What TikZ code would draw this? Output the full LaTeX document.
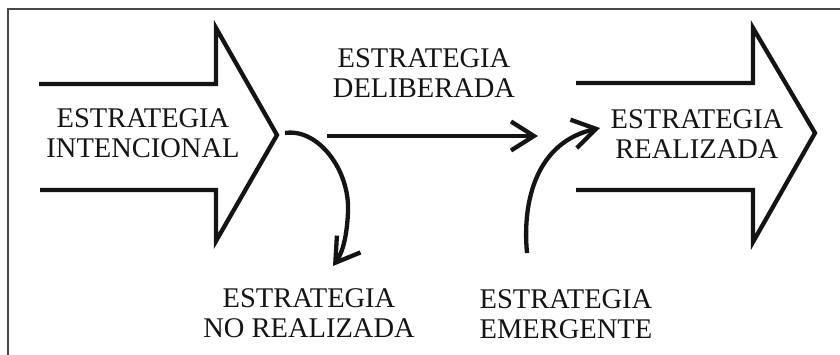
\documentclass[tikz,border=0pt]{standalone}
\usepackage{fontspec}
\setmainfont{Liberation Serif}
\usetikzlibrary{arrows.meta}
\begin{document}
\begin{tikzpicture}[x=1pt,y=-1pt,
  blockarrow/.style={line width=4.3pt, draw=black!92, line join=miter, miter limit=10},
  flowarrow/.style={line width=4.3pt, draw=black!92, -{Straight Barb[length=23pt, width=29pt]}},
  lbl/.style={font=\fontsize{28.5}{30}\selectfont, align=center, inner sep=0pt, text=black!92, anchor=center},
  frameline/.style={line width=2pt, draw=black!72}]
\useasboundingbox (0,0) rectangle (840,355);
% frame
\draw[frameline] (7.7,355) -- (7.7,9.5) -- (840,9.5);
% block arrows
\draw[blockarrow] (39,84) -- (216,84) -- (216,28) -- (277,135) -- (216,241) -- (216,190) -- (40,190);
\draw[blockarrow] (576,83) -- (753,83) -- (753,28) -- (815,133) -- (753,242) -- (753,190) -- (576,190);
% labels
\node[lbl] (intencional) at (143,133.6) {ESTRATEGIA\\INTENCIONAL};
\node[lbl] (deliberada) at (424,73) {ESTRATEGIA\\DELIBERADA};
\node[lbl] (realizada) at (697,133.6) {ESTRATEGIA\\REALIZADA};
\node[lbl] (norealizada) at (309,313.6) {ESTRATEGIA\\NO REALIZADA};
\node[lbl] (emergente) at (566,314) {ESTRATEGIA\\EMERGENTE};
% connector end points
\coordinate (delStart) at (327,136);
\coordinate (delEnd) at (538,136);
\coordinate (nrStart) at (285,133);
\coordinate (nrMid) at (348,212);
\coordinate (nrEnd) at (333,266);
\coordinate (emStart) at (527,253);
\coordinate (emEnd) at (600,128);
% connectors
\draw[flowarrow] (delStart) -- (delEnd);
\draw[flowarrow] (nrStart) .. controls (318,128) and (350,170) .. (nrMid)
  .. controls (347,235) and (343,252) .. (nrEnd);
\draw[flowarrow] (emStart) .. controls (522,200) and (537,142) .. (emEnd);
\end{tikzpicture}
\end{document}
